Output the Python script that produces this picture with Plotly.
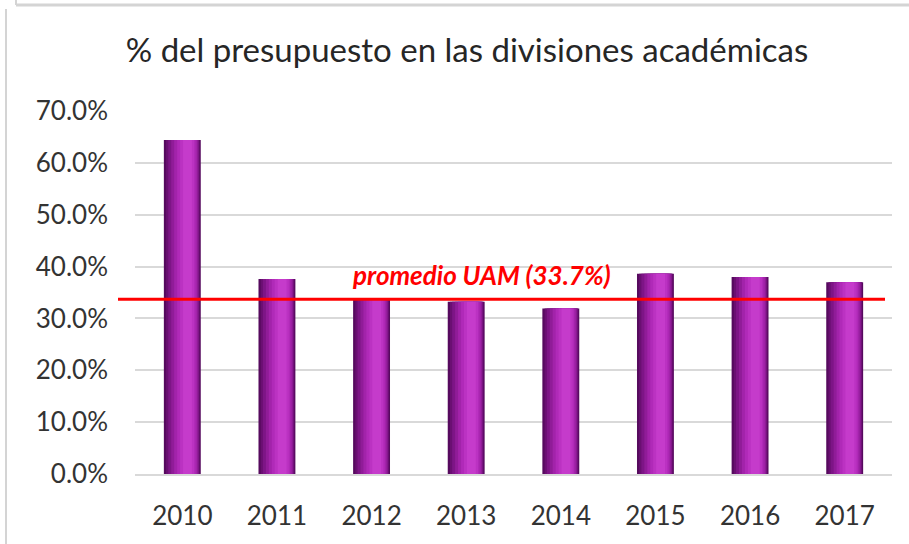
import numpy as np
import plotly.graph_objects as go

years = ["2010", "2011", "2012", "2013", "2014", "2015", "2016", "2017"]
shares = [64.4, 37.6, 33.8, 33.2, 31.9, 38.6, 38.0, 37.0]
average = 33.7
title_text = "% del presupuesto en las divisiones académicas"
avg_label = "promedio UAM (33.7%)"

W, H = 909, 544
L, R, T, B = 135, 17, 111, 70
pw, ph = W - L - R, H - T - B

fig = go.Figure()

# cylinder-like shading: overlaid bars of decreasing width
bw = 0.39
layers = [
    (0.00, 1.00, "#560a5e"),
    (0.06, 0.97, "#6a0f72"),
    (0.12, 0.95, "#7d1586"),
    (0.20, 0.93, "#901c98"),
    (0.28, 0.90, "#a223aa"),
    (0.36, 0.86, "#b02ab8"),
    (0.44, 0.82, "#bb32c2"),
    (0.52, 0.76, "#c53bcb"),
]
for a, b, c in layers:
    fig.add_trace(go.Bar(
        x=years, y=shares, width=bw * (b - a), offset=-bw / 2 + bw * a,
        marker=dict(color=c, line=dict(width=0)), hoverinfo="skip",
        showlegend=False,
    ))

fig.add_shape(type="line", xref="paper", yref="y",
              x0=(118 - L) / pw, x1=(885 - L) / pw, y0=average, y1=average,
              line=dict(color="#ff0000", width=3))
fig.add_annotation(xref="paper", yref="y", x=(481 - L) / pw, y=average,
                   yanchor="bottom", yshift=6, showarrow=False, text=avg_label,
                   font=dict(family="Lato", size=26, color="#ff0000", weight="bold", style="italic"))

# frame decoration
frame = dict(color="#d4d4d4", width=3)
def px(x):
    return (x - L) / pw
def py(y):
    return (H - B - y) / ph
fig.add_shape(type="line", xref="paper", yref="paper", x0=px(16), x1=px(W + 5), y0=py(5), y1=py(5), line=frame)
fig.add_shape(type="line", xref="paper", yref="paper", x0=px(16), x1=px(16), y0=py(-5), y1=py(5), line=dict(color="#d4d4d4", width=2))
fig.add_shape(type="line", xref="paper", yref="paper", x0=px(6), x1=px(6), y0=py(9), y1=py(H + 5), line=dict(color="#d4d4d4", width=2))

fig.update_layout(
    width=W, height=H,
    margin=dict(l=L, r=R, t=T, b=B),
    paper_bgcolor="white", plot_bgcolor="white",
    barmode="overlay",
    title=dict(text=title_text, x=467 / W, xanchor="center", y=1 - 50 / H, yanchor="middle",
               font=dict(family="Lato", size=33, color="#262626")),
    font=dict(family="Lato", color="#333333"),
    yaxis=dict(range=[0, 70], dtick=10, ticksuffix="%", tickformat=".1f",
               showgrid=True, gridcolor="#d9d9d9", gridwidth=2, zeroline=False,
               showline=False, ticks="", ticklabelstandoff=26,
               tickfont=dict(family="Lato", size=26, color="#333333")),
    xaxis=dict(showline=True, linecolor="#d9d9d9", linewidth=2, ticks="",
               ticklabelstandoff=18, tickfont=dict(family="Lato", size=26, color="#333333"),
               range=[-0.5, 7.5]),
)

fig.write_html("out.html", config={"displayModeBar": False},
               post_script="document.body.style.margin='0';document.body.style.overflow='hidden';")
